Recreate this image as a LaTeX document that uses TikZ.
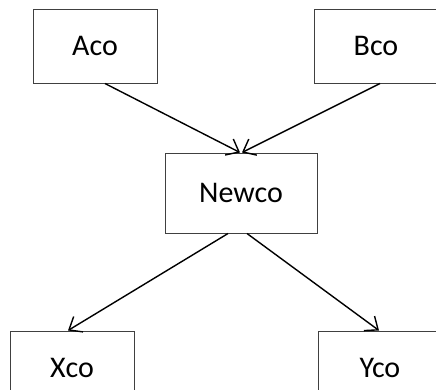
\documentclass[tikz,border=0pt]{standalone}
\usepackage{fontspec}
\setmainfont{Carlito}
\usetikzlibrary{arrows.meta}
\begin{document}
\begin{tikzpicture}[x=1pt,y=-1pt,
  box/.style={draw=black!75, line width=1pt, rectangle, inner sep=0pt,
    font=\fontsize{30}{32}\selectfont},
  conn/.style={draw=black, line width=1.4pt,
    -{Straight Barb[length=11pt,width=18pt,line width=1.4pt]}}]
\useasboundingbox (0,0) rectangle (436,389);
\clip (0,0) rectangle (436,389);
\node[box, minimum width=124pt, minimum height=74pt] (a) at (95,46) {Aco};
\node[box, minimum width=124pt, minimum height=74pt] (b) at (376,46) {Bco};
\node[box, minimum width=152pt, minimum height=80pt] (n) at (241,193) {Newco};
\node[box, minimum width=124pt, minimum height=74pt] (x) at (72,368) {Xco};
\node[box, minimum width=124pt, minimum height=74pt] (y) at (380,368) {Yco};
\draw[conn] ([xshift=10pt]a.south) -- ([xshift=-1pt]n.north);
\draw[conn] ([xshift=4pt]b.south) -- ([xshift=1pt]n.north);
\draw[conn] ([xshift=-13pt]n.south) -- ([xshift=-4pt]x.north);
\draw[conn] ([xshift=6pt]n.south) -- ([xshift=-1pt]y.north);
\end{tikzpicture}
\end{document}
